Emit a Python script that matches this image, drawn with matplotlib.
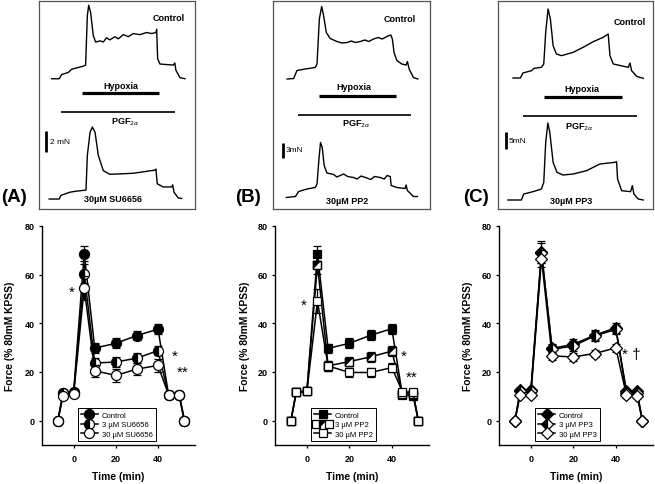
import matplotlib
matplotlib.use('Agg')
from matplotlib import pyplot as plt
from matplotlib.path import Path
from matplotlib.legend_handler import HandlerTuple

plt.rcParams['font.family'] = ['Liberation Sans', 'DejaVu Sans']

# ---- summary data: force (% 80mM KPSS) vs time (min) ----
time = [-7.5, -5, 0, 5, 10, 20, 30, 40, 45, 50, 52.5]

a_ctrl = [0, 11.4, 11.8, 68.6, 29.8, 31.8, 35.0, 37.6, 10.5, 10.5, 0]
a_ctrl_sem = [0, 1.0, 1.0, 3.0, 2.0, 2.0, 2.0, 2.0, 1.0, 1.0, 0]
a_3 = [0, 11.5, 11.5, 60.4, 23.7, 24.1, 25.7, 28.8, 10.5, 10.5, 0]
a_3_sem = [0, 1.0, 1.0, 4.0, 2.0, 2.0, 2.0, 2.0, 1.0, 1.0, 0]
a_30 = [0, 10.3, 11.0, 54.6, 20.5, 18.6, 21.2, 22.7, 10.5, 10.5, 0]
a_30_sem = [0, 1.0, 1.0, 5.0, 2.5, 2.6, 2.5, 2.5, 1.0, 1.0, 0]

b_ctrl = [0, 11.6, 12.0, 68.6, 29.7, 31.8, 35.1, 37.8, 10.5, 10.2, 0]
b_ctrl_sem = [0, 1.0, 1.0, 3.0, 2.0, 2.0, 2.0, 2.0, 1.0, 1.0, 0]
b_3 = [0, 11.8, 12.0, 64.1, 22.5, 24.3, 26.2, 28.6, 11.0, 11.0, 0]
b_3_sem = [0, 1.0, 1.0, 4.0, 2.0, 2.0, 2.0, 2.0, 1.0, 1.0, 0]
b_30 = [0, 11.9, 12.0, 49.1, 22.5, 19.8, 19.8, 21.8, 11.9, 11.6, 0]
b_30_sem = [0, 1.0, 1.0, 5.0, 2.0, 2.0, 2.0, 2.0, 1.0, 1.0, 0]

c_ctrl = [0, 12.5, 12.5, 69.2, 29.7, 31.4, 35.1, 38.2, 12.0, 12.0, 0]
c_ctrl_sem = [0, 1.0, 1.0, 4.5, 2.0, 2.0, 2.0, 2.0, 1.0, 1.0, 0]
c_3 = [0, 12.0, 12.0, 68.9, 29.3, 30.7, 34.8, 37.5, 11.5, 11.5, 0]
c_3_sem = [0, 1.0, 1.0, 4.0, 2.0, 2.0, 2.0, 2.0, 1.0, 1.0, 0]
c_30 = [0, 10.6, 10.6, 66.6, 26.6, 26.2, 27.6, 29.9, 10.5, 10.2, 0]
c_30_sem = [0, 1.0, 1.0, 3.5, 1.5, 1.5, 1.5, 1.5, 1.0, 1.0, 0]

legend_a = ['Control', '3 µM SU6656', '30 µM SU6656']
legend_b = ['Control', '3 µM PP2', '30 µM PP2']
legend_c = ['Control', '3 µM PP3', '30 µM PP3']

# ---- raw tension traces (time in min from hypoxia onset, force in mN) ----
hypoxia = [0, 40]

t_a_top = [-15.7, -11.8, -10.5, -7.1, -5.4, 0.7, 1.9, 2.8, 3.5, 4.5, 5.9, 7.1, 9.4, 11.1, 12.8, 14.5,
           17.1, 18.9, 21.5, 24.1, 26.6, 30.1, 33.6, 36.2, 38.4, 38.8, 39.3, 40.5, 47.4, 48.2, 48.8, 50.9, 53.5]
f_a_top = [12.4, 12.4, 12.8, 13.0, 13.3, 13.6, 13.7, 18.4, 19.4, 18.7, 16.5, 15.9, 16.0, 15.9, 16.3, 16.1,
           16.4, 16.2, 16.6, 16.4, 16.7, 16.6, 16.8, 16.7, 16.8, 17.1, 14.3, 13.8, 13.7, 13.9, 13.2, 12.5, 12.4]
t_a_bot = [-17.0, -11.8, -10.9, -6.2, -2.8, 2.1, 2.8, 4.2, 5.4, 6.8, 8.5, 11.1, 14.5, 26.6, 37.9, 38.4,
           39.1, 42.2, 46.6, 47.1, 47.8, 50.0, 51.8]
f_a_bot = [0.95, 0.95, 1.3, 1.6, 1.7, 1.8, 5.1, 7.3, 7.8, 7.3, 5.1, 3.65, 3.3, 3.4, 3.7, 3.8,
           2.4, 2.1, 2.1, 2.3, 1.6, 1.05, 1.0]
pgf_a = [-10.9, 48.3]

t_b_top = [-16.3, -12.9, -11.2, -6.9, -1.7, -0.8, 0.4, 1.6, 2.6, 4.0, 6.0, 9.5, 12.0, 14.7, 17.0, 19.0,
           21.6, 24.0, 26.0, 28.4, 31.0, 33.0, 35.3, 37.4, 38.2, 39.1, 40.5, 43.1, 45.3, 46.0, 46.9, 49.1, 51.4]
f_b_top = [26.0, 26.1, 27.7, 28.0, 28.3, 29.0, 38.0, 40.5, 38.7, 35.3, 34.1, 33.5, 33.2, 33.3, 33.6, 33.3,
           33.5, 33.8, 33.5, 34.0, 34.3, 34.0, 34.5, 34.8, 34.0, 31.3, 29.7, 29.0, 28.8, 29.5, 28.0, 26.3, 26.0]
t_b_bot = [-16.7, -12.0, -10.3, -6.0, -1.7, -0.8, 0.2, 1.0, 1.9, 2.9, 4.3, 7.8, 9.5, 11.2, 13.0, 15.0,
           18.1, 20.0, 22.0, 25.0, 27.0, 29.0, 31.9, 34.0, 35.5, 37.1, 37.6, 40.5, 44.8, 45.3, 46.0, 49.1, 51.2]
f_b_bot = [2.3, 2.5, 3.5, 4.0, 4.3, 5.0, 10.0, 13.3, 12.3, 8.7, 7.2, 6.9, 6.4, 6.7, 7.0, 6.5,
           6.3, 6.0, 6.6, 6.2, 5.9, 6.5, 6.3, 6.0, 6.7, 6.5, 4.7, 4.3, 4.1, 4.8, 3.7, 2.5, 2.5]
pgf_b = [-10.9, 47.8]

t_c_top = [-15.8, -12.0, -10.7, -6.3, -5.0, -1.2, 0.0, 1.0, 2.2, 3.4, 4.8, 6.5, 9.1, 15.1, 20.2, 25.4,
           30.5, 33.1, 34.0, 35.7, 43.4, 44.3, 45.1, 47.7, 51.1]
f_c_top = [39.3, 39.3, 40.8, 41.5, 42.2, 42.5, 43.5, 53.0, 60.0, 57.0, 49.0, 46.5, 46.0, 47.0, 48.5, 50.2,
           51.5, 52.5, 46.0, 43.5, 42.5, 43.8, 41.5, 39.8, 39.2]
t_c_bot = [-18.4, -11.5, -10.3, -5.5, -1.2, 0.0, 1.0, 2.1, 3.1, 4.8, 6.8, 9.9, 15.1, 22.0, 28.8, 36.6,
           37.4, 37.9, 40.0, 44.6, 45.5, 46.3, 48.5, 51.1]
f_c_bot = [2.7, 2.7, 4.5, 5.2, 6.0, 8.0, 20.0, 25.8, 23.0, 14.0, 11.0, 10.2, 10.5, 11.5, 13.5, 14.0,
           14.2, 9.0, 5.5, 5.2, 7.0, 4.5, 3.0, 2.7]
pgf_c = [-10.7, 47.7]

scale_mN = [2, 3, 5]
drugs = ['30µM SU6656', '30µM PP2', '30µM PP3']

W, H = 655, 485
fig = plt.figure(figsize=(W / 100, H / 100), dpi=100)


def px_rect(x0, y0, x1, y1):
    return [x0 / W, 1 - y1 / H, (x1 - x0) / W, (y1 - y0) / H]


# ---------------- trace boxes ----------------
boxes = [
    dict(rect=px_rect(39, 2, 195, 210), xlim=(-22.3, 58.7), ylim=(0, 19.8),
         top=(t_a_top, f_a_top), bot=(t_a_bot, f_a_bot), pgf=pgf_a,
         hyp_y=11.0, hyp_txt=(20.3, 11.8), pgf_y=9.2, pgf_txt=(22.3, 8.4),
         bar_x=-18.7, bar_y=5.4, bar_txt=(-16.6, 6.4), ctrl=(45.2, 18.2), drug=(16.1, 1.0),
         unit='{} mN'),
    dict(rect=px_rect(273, 2, 430, 210), xlim=(-23.6, 57.7), ylim=(0, 41.6),
         top=(t_b_top, f_b_top), bot=(t_b_bot, f_b_bot), pgf=pgf_b,
         hyp_y=22.7, hyp_txt=(18.2, 24.4), pgf_y=18.9, pgf_txt=(19.8, 17.1),
         bar_x=-18.6, bar_y=10.3, bar_txt=(-17.2, 11.9), ctrl=(42.2, 38.0), drug=(14.7, 1.8),
         unit='{}mN'),
    dict(rect=px_rect(498, 2, 653, 210), xlim=(-23.5, 56.1), ylim=(0, 62.4),
         top=(t_c_top, f_c_top), bot=(t_c_bot, f_c_bot), pgf=pgf_c,
         hyp_y=33.5, hyp_txt=(19.7, 36.1), pgf_y=27.8, pgf_txt=(18.2, 24.9),
         bar_x=-19.2, bar_y=18.0, bar_txt=(-17.9, 20.5), ctrl=(43.9, 56.2), drug=(14.3, 2.5),
         unit='{}mN'),
]

for i, b in enumerate(boxes):
    ax = fig.add_axes(b['rect'])
    ax.set_xlim(*b['xlim'])
    ax.set_ylim(*b['ylim'])
    ax.set_xticks([])
    ax.set_yticks([])
    for s in ax.spines.values():
        s.set_color('#555555')
        s.set_linewidth(0.9)
    ax.plot(*b['top'], color='black', lw=1.0)
    ax.plot(*b['bot'], color='black', lw=1.0)
    ax.plot(hypoxia, [b['hyp_y']] * 2, color='black', lw=2.3, solid_capstyle='butt')
    ax.plot(b['pgf'], [b['pgf_y']] * 2, color='black', lw=1.2, solid_capstyle='butt')
    ax.plot([b['bar_x']] * 2, [b['bar_y'], b['bar_y'] + scale_mN[i]], color='black', lw=2.0,
            solid_capstyle='butt')
    ax.text(*b['hyp_txt'], 'Hypoxia', fontsize=6.5, fontweight='bold', ha='center', va='center')
    ax.text(*b['pgf_txt'], r'PGF$_{2\alpha}$', fontsize=6.5, fontweight='bold', ha='center', va='center')
    ax.text(*b['bar_txt'], b['unit'].format(scale_mN[i]), fontsize=6, ha='left', va='center')
    ax.text(*b['ctrl'], 'Control', fontsize=6.5, fontweight='bold', ha='center', va='center')
    ax.text(*b['drug'], drugs[i], fontsize=6.5, fontweight='bold', ha='center', va='center')

for lbl, x in zip(['(A)', '(B)', '(C)'], [1, 235, 463]):
    fig.text(x / W, 1 - 198 / H, lbl, fontsize=13.5, fontweight='bold', ha='left', va='center')

# ---------------- summary graphs ----------------
tri_ul = Path([(-1, -1), (-1, 1), (1, 1), (-1, -1)], [Path.MOVETO, Path.LINETO, Path.LINETO, Path.CLOSEPOLY])

panels = [
    dict(rect=px_rect(42, 227, 195, 446), marker='o', ylab_x=-0.175,
         series=[(a_ctrl, a_ctrl_sem), (a_3, a_3_sem), (a_30, a_30_sem)], labels=legend_a,
         stars=[('*', -0.8, 53.0), ('*', 47.8, 26.5), ('**', 51.5, 20.0)]),
    dict(rect=px_rect(275, 227, 429, 446), marker='s', ylab_x=-0.162,
         series=[(b_ctrl, b_ctrl_sem), (b_3, b_3_sem), (b_30, b_30_sem)], labels=legend_b,
         stars=[('*', -1.6, 47.5), ('*', 45.8, 26.5), ('**', 49.5, 18.0)]),
    dict(rect=px_rect(499, 227, 653, 446), marker='D', ylab_x=-0.168,
         series=[(c_ctrl, c_ctrl_sem), (c_3, c_3_sem), (c_30, c_30_sem)], labels=legend_c,
         stars=[('* †', 47.5, 27.5)]),
]

for p in panels:
    ax = fig.add_axes(p['rect'])
    m = p['marker']
    ms = 7.2 if m == 'o' else (6.4 if m == 's' else 6.0)
    handles = []
    for k, (vals, sem) in enumerate(p['series']):
        z = 3 + 2 * k
        ax.errorbar(time, vals, yerr=sem, fmt='none', ecolor='black', elinewidth=0.9,
                    capsize=2.8, capthick=0.9, zorder=z)
        if k == 0:
            h, = ax.plot(time, vals, color='black', lw=1.1, marker=m, ms=ms, mfc='black',
                         mec='black', mew=0.9, zorder=z + 0.5)
            handles.append(h)
        elif k == 2:
            h, = ax.plot(time, vals, color='black', lw=1.1, marker=m, ms=ms, mfc='white',
                         mec='black', mew=0.9, zorder=z + 0.5)
            handles.append(h)
        elif m == 's':
            h1, = ax.plot(time, vals, color='black', lw=1.1, marker='s', ms=ms, mfc='white',
                          mec='black', mew=0.9, zorder=z + 0.3)
            h2, = ax.plot(time, vals, ls='none', marker=tri_ul, ms=ms, mfc='black',
                          mec='black', mew=0.3, zorder=z + 0.4)
            h3, = ax.plot(time, vals, ls='none', marker='s', ms=ms, mfc='none',
                          mec='black', mew=0.9, zorder=z + 0.5)
            handles.append((h1, h2, h3))
        else:
            h, = ax.plot(time, vals, color='black', lw=1.1, marker=m, ms=ms, fillstyle='left',
                         mfc='black', mfcalt='white', mec='black', mew=0.9, zorder=z + 0.5)
            handles.append(h)

    for txt, x, y in p['stars']:
        ax.text(x, y, txt, fontsize=11, ha='center', va='center')

    ax.set_xlim(-15, 57.5)
    ax.set_ylim(-10, 80)
    ax.set_xticks([0, 20, 40])
    ax.set_yticks([0, 20, 40, 60, 80])
    ax.tick_params(direction='out', length=2.5, width=0.9, labelsize=6.5, pad=2.5)
    ax.tick_params(axis='x', pad=4)
    for t in ax.get_xticklabels() + ax.get_yticklabels():
        t.set_fontweight('bold')
    for s in ['top', 'right']:
        ax.spines[s].set_visible(False)
    for s in ['left', 'bottom']:
        ax.spines[s].set_linewidth(1.0)
    ax.set_xlabel('Time (min)', fontsize=7.4, fontweight='bold')
    ax.set_ylabel('Force (% 80mM KPSS)', fontsize=7.4, fontweight='bold')
    ax.xaxis.set_label_coords(0.5, -0.12)
    ax.yaxis.set_label_coords(p['ylab_x'], 0.5)

    leg = ax.legend(handles, p['labels'], loc='lower left', bbox_to_anchor=(0.235, 0.018),
                    borderaxespad=0, fontsize=5.5, fancybox=False, edgecolor='black',
                    framealpha=1, handlelength=2.2, handletextpad=0.5, borderpad=0.4,
                    labelspacing=0.3, handler_map={tuple: HandlerTuple(ndivide=None)})
    leg.get_frame().set_linewidth(0.7)
    leg.set_zorder(20)

fig.savefig('out.png', dpi=100)
